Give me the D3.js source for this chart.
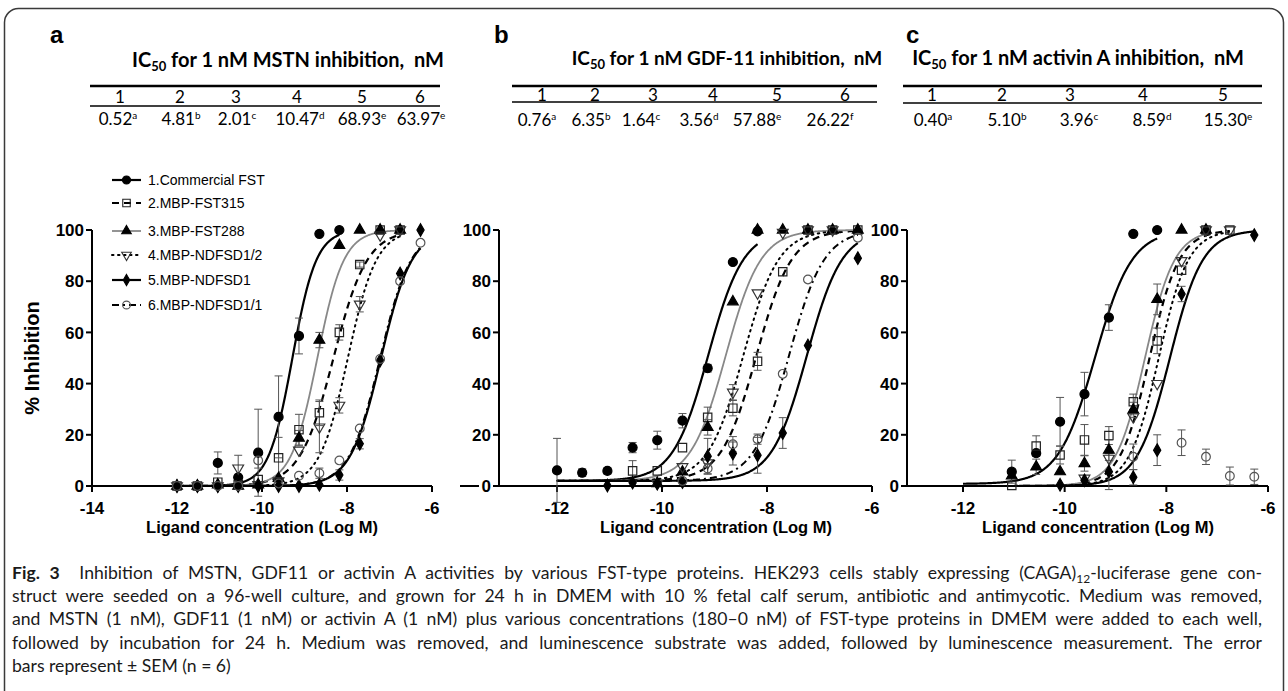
<!DOCTYPE html>
<html><head><meta charset="utf-8">
<script src="https://cdn.jsdelivr.net/npm/d3@7"></script>
<style>
html,body{margin:0;padding:0;background:#fff;}
svg{display:block;}
text{white-space:pre;}
</style></head><body>
<svg id="chart" width="1288" height="691"></svg>
<script>
// ---------------- DATA ----------------
const logConc = [-12.0, -11.52, -11.04, -10.56, -10.09, -9.61, -9.13, -8.65, -8.18, -7.70, -7.22, -6.75, -6.27];
const seriesNames = ["1.Commercial FST", "2.MBP-FST315", "3.MBP-FST288", "4.MBP-NDFSD1/2", "5.MBP-NDFSD1", "6.MBP-NDFSD1/1"];
const yTicks = [0, 20, 40, 60, 80, 100];
const xTicksA = [-14, -12, -10, -8, -6];
const xTicksBC = [-12, -10, -8, -6];

// Panel a (MSTN) mean % inhibition per series
const aMeans = [
  [0, 0, 9, 3.4, 13, 27, 58.6, 98.5, 100, null, null, null, null],
  [0, 0, 1.5, 0.5, 2.5, 11, 22, 28.6, 60, 86.5, 100, 100, null],
  [0, 0, 0.5, 0, 0.5, 3, 18.7, 57, 94, 100, 100, 100, null],
  [0, 0, 0, 7, 0.5, 2, 14, 23, 31.5, 71, 98, 100, null],
  [0, 0, 0, 0, 0, 0, 0, 0.5, 4.3, 16.5, 49, 83, 100],
  [0, 0, 0, 0, 10, 1, 4, 5, 10, 22.5, 49.6, 80, 95]
];
const aSEM = [
  [0, 0, 4.3, 0, 17, 16, 7, 0, 0, 0, 0, 0, 0],
  [0, 0, 0, 0, 0, 8, 6, 5, 3, 1, 0, 0, 0],
  [0, 0, 0, 0, 0, 0, 3, 3, 0, 0, 0, 0, 0],
  [0, 0, 0, 5, 0, 0, 0, 10, 3, 3, 0, 0, 0],
  [0, 0, 0, 0, 0, 0, 0, 0, 2, 2, 0, 0, 0],
  [0, 0, 0, 0, 3, 0, 0, 2, 0, 0, 0, 0, 0]
];
const aLogIC50 = [-9.284, -8.318, -8.697, -7.98, -7.20, -7.22];
const aHill = [1.55, 1.1, 1.4, 1.3, 1.2, 1.2];
const aBottom = [0, 0, 0, 0, 0, 0];

// Panel b (GDF-11)
const bMeans = [
  [6.1, 5.2, 5.9, 15, 17.9, 25.5, 46, 87.5, 99.5, null, null, null, null],
  [null, null, null, 5.9, 5.9, 15, 26.8, 30.4, 48.7, 83.7, 100, 100, 100],
  [null, null, null, null, 1, 5.5, 22.9, 72, 100, 100, 100, 100, 100],
  [null, null, null, null, 1, 7.5, 9, 36.6, 75.4, 99, 100, 100, null],
  [null, null, 0.2, 1.3, 1, 1.5, 11.6, 12.7, 12, 20.7, 54.9, null, 89],
  [null, null, null, null, null, 2, 6.8, 16.3, 18.3, 43.8, 80.7, null, 97]
];
const bSEM = [
  [12.5, 1.5, 1.2, 2, 3.5, 2.8, 1.5, 0, 0, 0, 0, 0, 0],
  [0, 0, 0, 4, 0, 0, 4, 3, 3.5, 0, 0, 0, 0],
  [0, 0, 0, 0, 0, 0, 3, 0, 0, 0, 0, 0, 0],
  [0, 0, 0, 0, 0, 0, 0, 3, 0, 0, 0, 0, 0],
  [0, 0, 0, 0, 0, 0, 7, 4.5, 7, 6, 0, 0, 0],
  [0, 0, 0, 0, 0, 0, 2, 3, 2, 0, 0, 0, 0]
];
const bLogIC50 = [-9.12, -8.20, -8.785, -8.45, -7.24, -7.58];
const bHill = [1.3, 1.3, 1.3, 1.3, 1.3, 1.3];
const bBottom = [2, 2, 2, 2, 2, 2];

// Panel c (activin A)
const cMeans = [
  [null, null, 5.6, 12.8, 25.1, 35.9, 65.8, 98.5, 100, null, null, null, null],
  [null, null, 0.2, 15.6, 12.1, 18, 19.7, 32.9, 56.7, 84.3, 100, 100, null],
  [null, null, 4, 7.5, 5.6, 8.8, 14, 29.7, 72.9, 100, 100, null, null],
  [null, null, null, null, null, 3, 10.8, 27, 40, 88, 100, 100, null],
  [null, null, null, null, 0.5, 2.2, 5.6, 3.4, 14, 75, null, null, 98],
  [null, null, null, null, null, null, null, 11.4, null, 16.9, 11.4, 3.9, 3.6]
];
const cSEM = [
  [0, 0, 4.5, 0, 9.5, 8.5, 5, 0, 0, 0, 0, 0, 0],
  [0, 0, 0, 4, 3.5, 6, 3.5, 3, 5, 0, 0, 0, 0],
  [0, 0, 0, 3, 0, 3, 4, 3, 6, 0, 0, 0, 0],
  [0, 0, 0, 0, 0, 0, 0, 0, 0, 0, 0, 0, 0],
  [0, 0, 0, 0, 0, 0, 7, 3, 6, 3, 0, 0, 0],
  [0, 0, 0, 0, 0, 0, 0, 5, 0, 5, 3, 3.5, 3]
];
const cLogIC50 = [-9.40, -8.33, -8.42, -8.15, -7.93, null];
const cHill = [1.2, 1.5, 1.5, 1.5, 1.35, null];
const cBottom = [0.8, 0, 0, 0, 0, 0];

// IC50 tables
const tableTitleA = "for 1 nM MSTN inhibition,  nM";
const tableTitleB = "for 1 nM GDF-11 inhibition,  nM";
const tableTitleC = "for 1 nM activin A inhibition,  nM";
const tableColsA = ["1", "2", "3", "4", "5", "6"];
const tableColsB = ["1", "2", "3", "4", "5", "6"];
const tableColsC = ["1", "2", "3", "4", "5"];
const ic50A = ["0.52", "4.81", "2.01", "10.47", "68.93", "63.97"];
const ic50SupA = ["a", "b", "c", "d", "e", "e"];
const ic50B = ["0.76", "6.35", "1.64", "3.56", "57.88", "26.22"];
const ic50SupB = ["a", "b", "c", "d", "e", "f"];
const ic50C = ["0.40", "5.10", "3.96", "8.59", "15.30"];
const ic50SupC = ["a", "b", "c", "d", "e"];

const captionLines = [
  "Inhibition of MSTN, GDF11 or activin A activities by various FST-type proteins. HEK293 cells stably expressing (CAGA)",
  "struct were seeded on a 96-well culture, and grown for 24 h in DMEM with 10 % fetal calf serum, antibiotic and antimycotic. Medium was removed,",
  "and MSTN (1 nM), GDF11 (1 nM) or activin A (1 nM) plus various concentrations (180–0 nM) of FST-type proteins in DMEM were added to each well,",
  "followed by incubation for 24 h. Medium was removed, and luminescence substrate was added, followed by luminescence measurement. The error",
  "bars represent ± SEM (n = 6)"
];

// ---------------- DRAW ----------------
const svg = d3.select("#chart");
const AX = "'Liberation Sans', Arial, sans-serif";
const TB = "Lato, 'Open Sans', sans-serif";

svg.append("rect").attr("x", 4.5).attr("y", 8.5).attr("width", 1279).attr("height", 800)
  .attr("rx", 14).attr("fill", "none").attr("stroke", "#3a3a3a").attr("stroke-width", 1.5);

const styles = [
  {stroke: "#000", width: 2.2, dash: null, sym: d3.symbolCircle, size: 64, fill: "#000", mstroke: "#000", rot: 0},
  {stroke: "#000", width: 2.2, dash: "7,5", sym: d3.symbolSquare, size: 70, fill: "none", mstroke: "#222", rot: 0},
  {stroke: "#888", width: 1.8, dash: null, sym: d3.symbolTriangle, size: 50, fill: "#000", mstroke: "#000", rot: 0},
  {stroke: "#000", width: 2, dash: "1.5,4.5", sym: d3.symbolTriangle, size: 50, fill: "none", mstroke: "#333", rot: 180},
  {stroke: "#000", width: 2.2, dash: null, sym: d3.symbolDiamond, size: 45, fill: "#000", mstroke: "#000", rot: 0},
  {stroke: "#000", width: 2, dash: "7,4,2,4", sym: d3.symbolCircle, size: 60, fill: "none", mstroke: "#555", rot: 0}
];

const yScale = d3.scaleLinear().domain([0, 100]).range([486, 230]);

function drawPanel(p) {
  const g = svg.append("g");
  const x = d3.scaleLinear().domain([-14, -6]).range(p.range);
  const clipId = "clip" + p.key;
  svg.append("clipPath").attr("id", clipId).append("rect")
    .attr("x", p.yAxisX).attr("y", 228).attr("width", p.range[1] - p.yAxisX + 5).attr("height", 260);

  // axes
  const xa = g.append("g").attr("transform", "translate(0,486)");
  xa.append("line").attr("x1", p.xAxisStart).attr("x2", p.range[1]).attr("stroke", "#000").attr("stroke-width", 2);
  const xt = xa.selectAll("g.xt").data(p.xTicks).join("g").attr("transform", d => `translate(${x(d)},0)`);
  xt.append("line").attr("y1", 0).attr("y2", 6).attr("stroke", "#000").attr("stroke-width", 2);
  xt.append("text").attr("y", 28).attr("text-anchor", "middle").attr("font-family", AX)
    .attr("font-weight", "bold").attr("font-size", 17).text(d => d);

  const ya = g.append("g").attr("transform", `translate(${p.yAxisX},0)`);
  ya.append("line").attr("y1", 230).attr("y2", 486).attr("stroke", "#000").attr("stroke-width", 2);
  const yt = ya.selectAll("g.yt").data(yTicks).join("g").attr("transform", d => `translate(0,${yScale(d)})`);
  yt.append("line").attr("x1", -6).attr("x2", 0).attr("stroke", "#000").attr("stroke-width", 2);
  yt.filter(d => d === 0).append("rect").attr("x", -20).attr("y", -8).attr("width", 14).attr("height", 16).attr("fill", "#fff");
  yt.append("text").attr("x", -8).attr("dy", "0.36em").attr("text-anchor", "end").attr("font-family", AX)
    .attr("font-weight", "bold").attr("font-size", 17).text(d => d);

  g.append("text").attr("x", p.titleX).attr("y", 533).attr("text-anchor", "middle").attr("font-family", AX)
    .attr("font-weight", "bold").attr("font-size", 16.5).text("Ligand concentration (Log M)");

  // curves
  const cg = g.append("g").attr("clip-path", `url(#${clipId})`);
  p.means.forEach((m, i) => {
    if (p.ic[i] == null) return;
    const idx = m.map((v, j) => v == null ? -1 : j).filter(j => j >= 0);
    const xEnd = logConc[idx[idx.length - 1]];
    const xs = d3.range(-12, xEnd + 0.0001, 0.01);
    const pts = xs.map(v => [v, p.bottom[i] + (100 - p.bottom[i]) / (1 + Math.pow(10, (p.ic[i] - v) * p.hill[i]))]);
    const s = styles[i];
    cg.append("path").datum(pts)
      .attr("d", d3.line().x(d => x(d[0])).y(d => yScale(d[1])))
      .attr("fill", "none").attr("stroke", s.stroke).attr("stroke-width", s.width)
      .attr("stroke-dasharray", s.dash).attr("stroke-linecap", s.dash && s.dash.startsWith("1.5") ? "round" : "butt");
  });

  // error bars and markers
  p.means.forEach((m, i) => {
    m.forEach((v, j) => {
      if (v == null) return;
      const e = p.sem[i][j];
      const cx = x(logConc[j]);
      if (e > 0) {
        const eb = g.append("g").attr("stroke", "#555").attr("stroke-width", 1);
        eb.append("line").attr("x1", cx).attr("x2", cx).attr("y1", yScale(v - e)).attr("y2", yScale(v + e));
        eb.append("line").attr("x1", cx - 4).attr("x2", cx + 4).attr("y1", yScale(v - e)).attr("y2", yScale(v - e));
        eb.append("line").attr("x1", cx - 4).attr("x2", cx + 4).attr("y1", yScale(v + e)).attr("y2", yScale(v + e));
      }
    });
  });
  p.means.forEach((m, i) => {
    const s = styles[i];
    m.forEach((v, j) => {
      if (v == null) return;
      g.append("path").attr("d", d3.symbol().type(s.sym).size(s.size)())
        .attr("transform", `translate(${x(logConc[j])},${yScale(v)}) rotate(${s.rot})`)
        .attr("fill", s.fill).attr("stroke", s.mstroke).attr("stroke-width", 1.2);
    });
  });
}

drawPanel({key: "a", means: aMeans, sem: aSEM, ic: aLogIC50, hill: aHill, bottom: aBottom,
  range: [92, 432], yAxisX: 92, xAxisStart: 92, xTicks: xTicksA, titleX: 262});
drawPanel({key: "b", means: bMeans, sem: bSEM, ic: bLogIC50, hill: bHill, bottom: bBottom,
  range: [452, 872], yAxisX: 499, xAxisStart: 460, xTicks: xTicksBC, titleX: 716});
drawPanel({key: "c", means: cMeans, sem: cSEM, ic: cLogIC50, hill: cHill, bottom: cBottom,
  range: [861.3, 1268], yAxisX: 907, xAxisStart: 907, xTicks: xTicksBC, titleX: 1098});

// y axis title
svg.append("text").attr("transform", "translate(39,358) rotate(-90)").attr("text-anchor", "middle")
  .attr("font-family", AX).attr("font-weight", "bold").attr("font-size", 20).text("% Inhibition");

// legend
const legY = [180, 203, 231, 255, 280, 305];
seriesNames.forEach((name, i) => {
  const s = styles[i], y = legY[i];
  svg.append("line").attr("x1", 112).attr("x2", 141).attr("y1", y).attr("y2", y)
    .attr("stroke", s.stroke).attr("stroke-width", s.width).attr("stroke-dasharray", s.dash)
    .attr("stroke-linecap", s.dash && s.dash.startsWith("1.5") ? "round" : "butt");
  svg.append("path").attr("d", d3.symbol().type(s.sym).size(s.size * 0.8)())
    .attr("transform", `translate(126.5,${y}) rotate(${s.rot})`)
    .attr("fill", s.fill).attr("stroke", s.mstroke).attr("stroke-width", 1.1);
  svg.append("text").attr("x", 148).attr("y", y + 5).attr("font-family", AX).attr("font-size", 14).text(name);
});

// panel letters
[["a", 50, 43], ["b", 494, 43], ["c", 906, 43]].forEach(([t, px, py]) => {
  svg.append("text").attr("x", px).attr("y", py).attr("font-family", AX).attr("font-weight", "bold")
    .attr("font-size", 24).text(t);
});

// tables
function drawTable(t) {
  const tt = svg.append("text").attr("x", t.titleX).attr("y", t.titleY).attr("text-anchor", "middle")
    .attr("font-family", TB).attr("font-weight", "bold").attr("font-size", t.fs);
  tt.append("tspan").text("IC");
  tt.append("tspan").attr("font-size", 13).attr("dy", 4).text("50");
  tt.append("tspan").attr("dy", -4).text(" " + t.title);
  svg.append("line").attr("x1", t.x1).attr("x2", t.x2).attr("y1", 86).attr("y2", 86).attr("stroke", "#000").attr("stroke-width", 2.5);
  svg.append("line").attr("x1", t.x1).attr("x2", t.x2).attr("y1", t.line2).attr("y2", t.line2).attr("stroke", "#000").attr("stroke-width", 1.4);
  t.cols.forEach((c, i) => {
    svg.append("text").attr("x", t.hx[i]).attr("y", t.hy).attr("text-anchor", "middle")
      .attr("font-family", TB).attr("font-size", 17).text(c);
    const vt = svg.append("text").attr("x", t.vx[i]).attr("y", t.vy).attr("text-anchor", "middle")
      .attr("font-family", TB).attr("font-size", 17);
    vt.append("tspan").text(t.vals[i]);
    vt.append("tspan").attr("font-size", 10).attr("dy", -6).text(t.sups[i]);
  });
}
drawTable({title: tableTitleA, titleX: 288, titleY: 67, fs: 20, x1: 90, x2: 440, line2: 106, cols: tableColsA,
  hx: [120, 180, 236, 297, 362, 420], hy: 103, vals: ic50A, sups: ic50SupA,
  vx: [118, 181, 237, 300, 362, 421], vy: 125});
drawTable({title: tableTitleB, titleX: 727, titleY: 65, fs: 19, x1: 512, x2: 877, line2: 102, cols: tableColsB,
  hx: [542, 595, 653, 713, 777, 845], hy: 101, vals: ic50B, sups: ic50SupB,
  vx: [537, 591, 641, 699, 757, 830], vy: 126});
drawTable({title: tableTitleC, titleX: 1078, titleY: 65, fs: 20, x1: 903, x2: 1262, line2: 103, cols: tableColsC,
  hx: [932, 1002, 1070, 1143, 1223], hy: 101, vals: ic50C, sups: ic50SupC,
  vx: [933, 1007, 1079, 1152, 1228], vy: 126});

// caption (justified by word spacing)
const capX = 12, capR = 1262, capY0 = 579, capDY = 23.2;
captionLines.forEach((line, i) => {
  const t = svg.append("text").attr("x", capX).attr("y", capY0 + i * capDY)
    .attr("font-family", TB).attr("font-size", 17.6).attr("fill", "#1a1a1a");
  let full;
  if (i === 0) {
    t.append("tspan").attr("font-weight", "bold").text("Fig. 3");
    t.append("tspan").text("  " + line);
    t.append("tspan").attr("font-size", 12).attr("dy", 4).text("12");
    t.append("tspan").attr("dy", -4).text("-luciferase gene con-");
    full = "Fig. 3  " + line + "12-luciferase gene con-";
  } else {
    t.text(line);
    full = line;
  }
  if (i < captionLines.length - 1) {
    const w = t.node().getComputedTextLength();
    const nSp = (full.match(/ /g) || []).length;
    const extra = (capR - capX - w) / nSp;
    t.style("word-spacing", extra.toFixed(2) + "px");
  }
});
</script>
</body></html>
